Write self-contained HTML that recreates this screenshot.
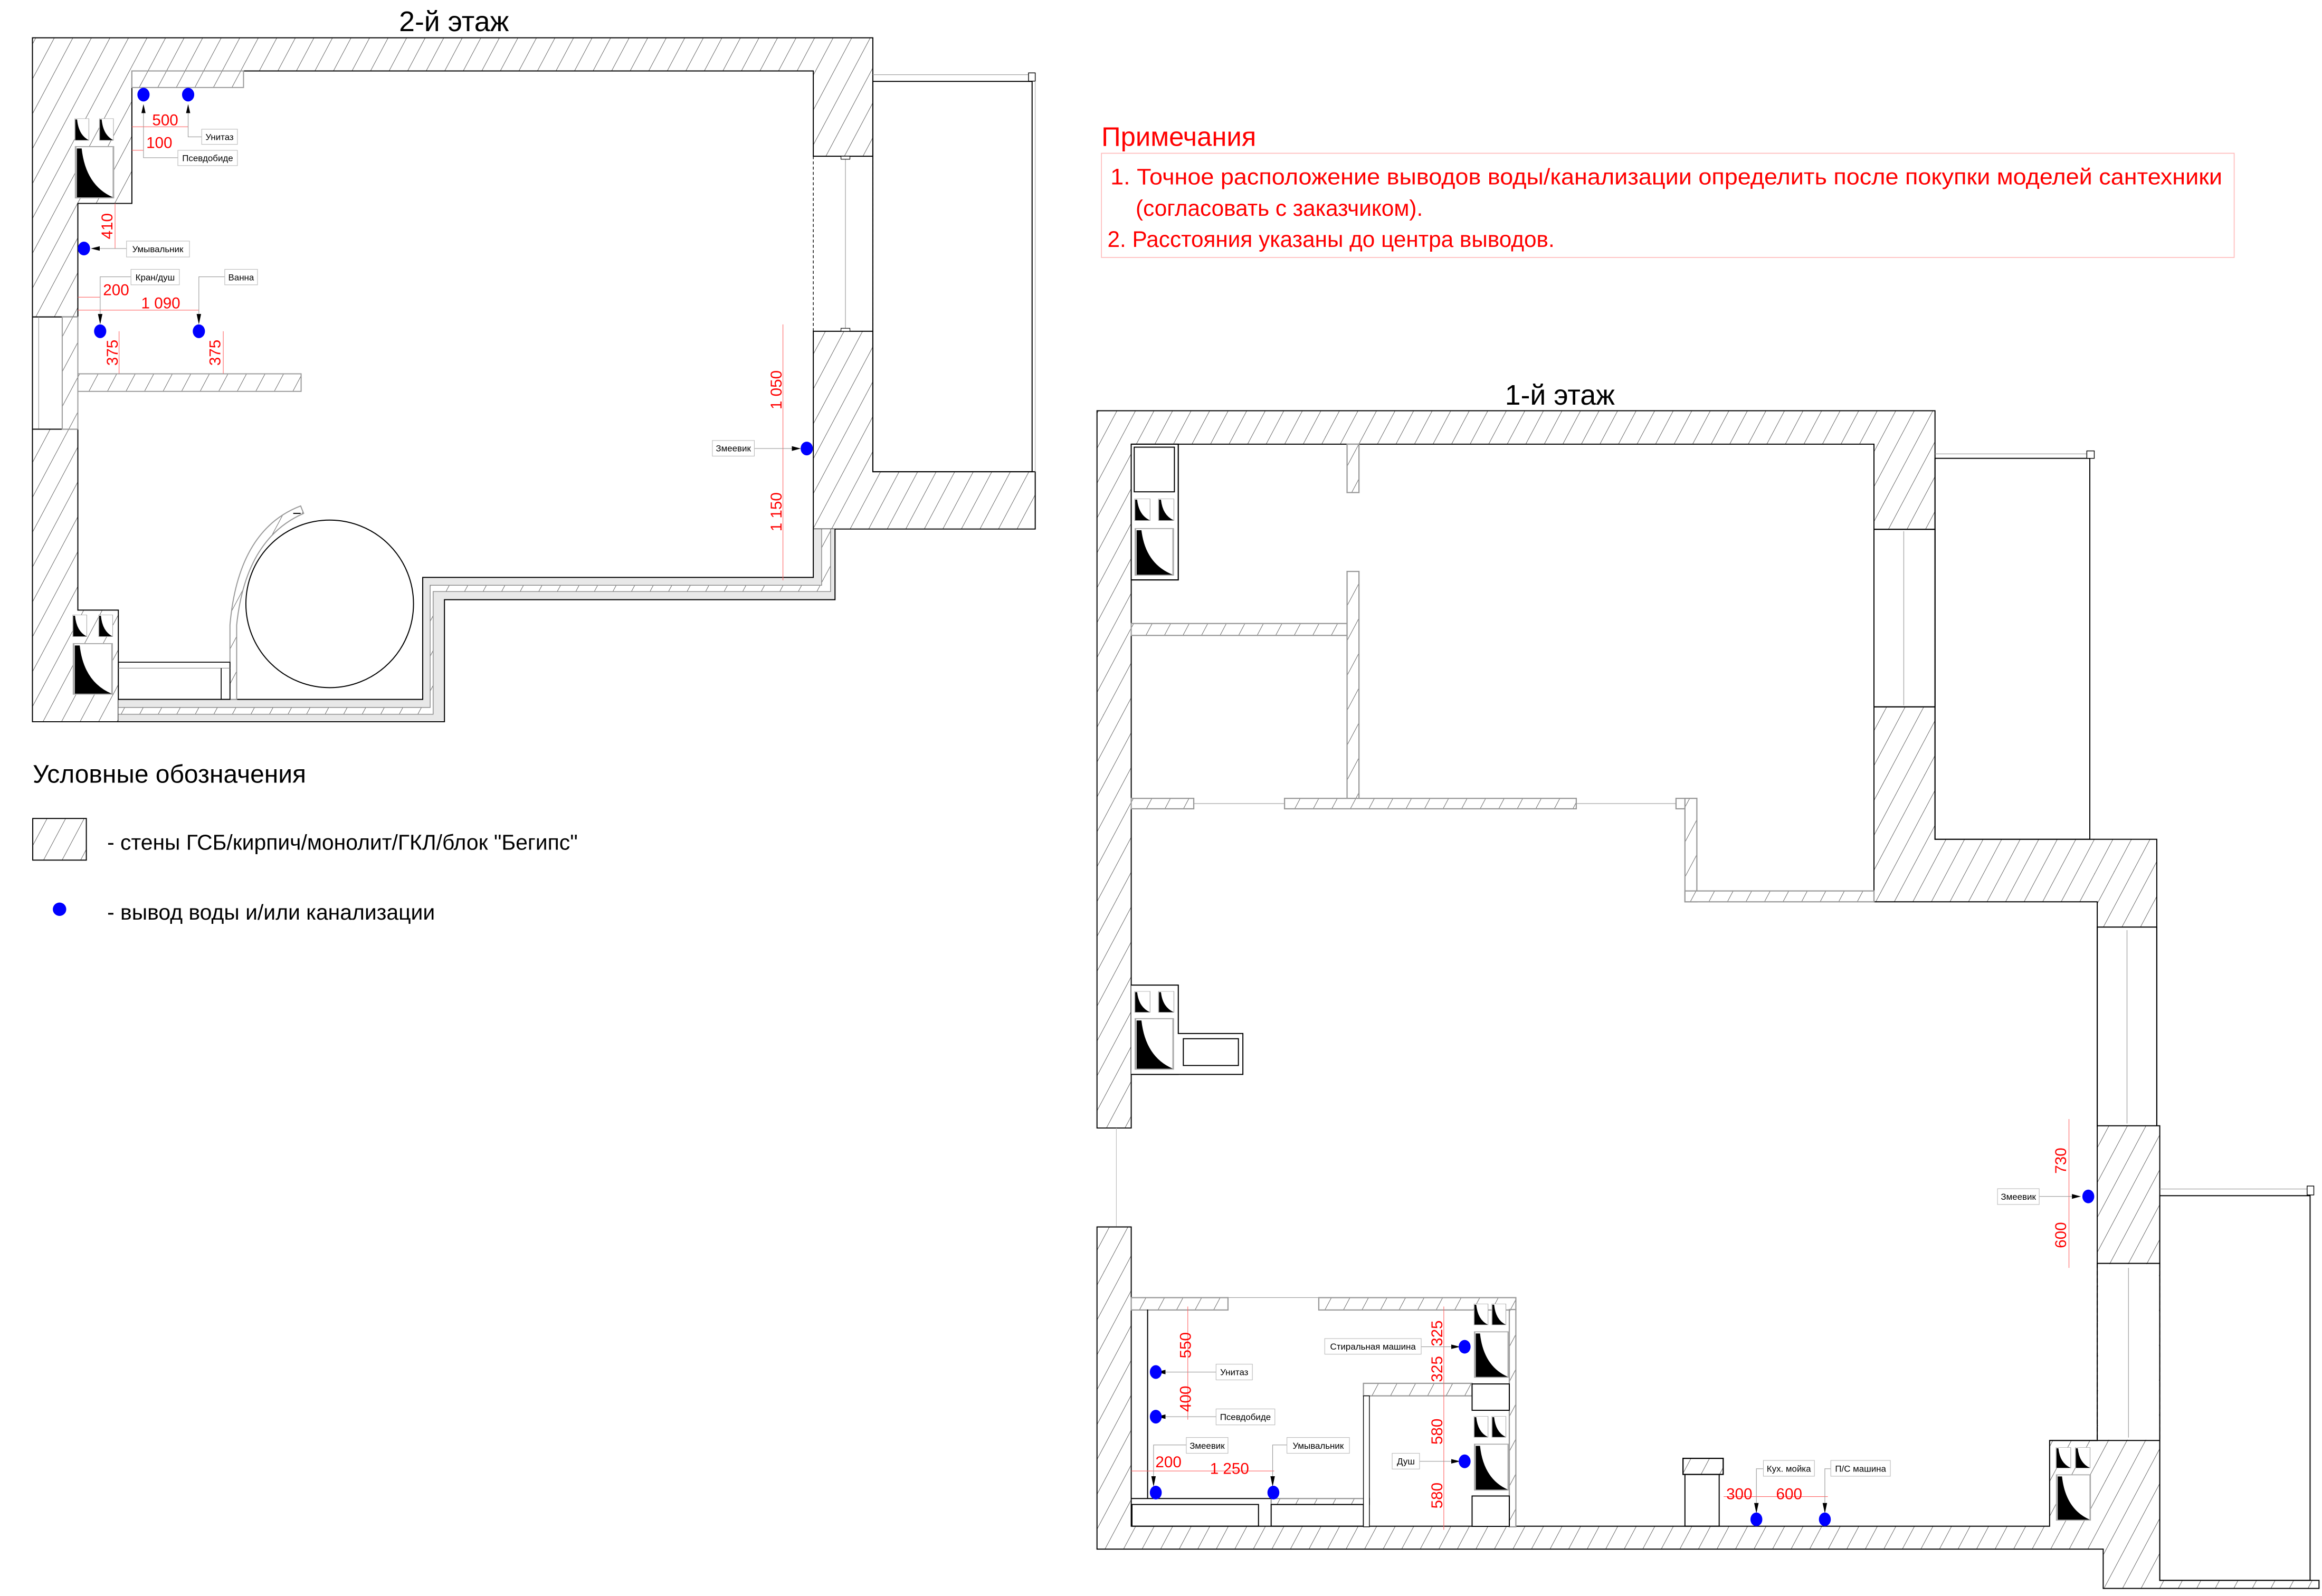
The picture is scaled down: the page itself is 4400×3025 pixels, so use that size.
<!DOCTYPE html>
<html><head><meta charset="utf-8"><style>html,body{margin:0;padding:0;background:#fff}svg{display:block}</style></head><body>
<svg xmlns="http://www.w3.org/2000/svg" width="4400" height="3025" viewBox="0 0 1560 1072.5" font-family="'Liberation Sans', sans-serif">
<defs>
<pattern id="h" patternUnits="userSpaceOnUse" width="11" height="11" patternTransform="rotate(28)">
<rect width="11" height="11" fill="#fff"/><line x1="0" y1="0" x2="0" y2="11" stroke="#666" stroke-width="0.7"/></pattern>
<symbol id="tr" viewBox="0 0 10 20" preserveAspectRatio="none"><rect x="0.3" y="0.3" width="9.4" height="19.4" fill="#fff" stroke="#aaa" stroke-width="0.4"/><path d="M0.6,1 L1.8,1 Q2.8,15 9.6,19.5 L0.6,19.5 Z" fill="#000"/></symbol>
</defs>
<rect width="1560" height="1072.5" fill="#fff"/>
<g stroke="#000" stroke-width="0.7">
<path d="M21.8,25.4 H586.4 V105 H546.4 V47.7 H88.6 V136.7 H52.3 V213 H21.8 Z" fill="url(#h)"/>
<path d="M21.8,288.4 H52.3 V410 H79.5 V485 H21.8 Z" fill="url(#h)"/>
<path d="M546.4,222.6 H586.4 V317 H695.5 V355.5 H546.4 Z" fill="url(#h)"/>
<rect x="21.8" y="213" width="30.5" height="75.4" fill="#fff"/>
<rect x="41.8" y="213" width="10.5" height="75.4" fill="url(#h)" stroke="#999"/>
<line x1="26" y1="213" x2="26" y2="288" stroke="#999" stroke-width="0.4"/>
<rect x="52.3" y="251.2" width="150" height="11.8" fill="url(#h)" stroke="#999"/>
<rect x="88.6" y="47.7" width="75" height="11.1" fill="url(#h)" stroke="#999"/>
<line x1="546.4" y1="105" x2="546.4" y2="222.6" stroke-dasharray="2,1.5" stroke-width="0.5"/>
<line x1="586.4" y1="105" x2="586.4" y2="222.6" stroke-dasharray="2,1.5" stroke-width="0.5"/>
<line x1="568" y1="107" x2="568" y2="221" stroke="#aaa" stroke-width="0.5"/>
<rect x="565" y="105" width="6" height="2" fill="#fff" stroke-width="0.4"/><rect x="565" y="220.6" width="6" height="2" fill="#fff" stroke-width="0.4"/>
<rect x="586.4" y="54.7" width="107" height="262.3" fill="none"/>
<line x1="586.4" y1="50.2" x2="693" y2="50.2" stroke="#999" stroke-width="0.4"/>
<rect x="691" y="49" width="4.5" height="5.5" fill="#fff" stroke-width="0.5"/>
<line x1="695.5" y1="55" x2="695.5" y2="317" stroke="#aaa" stroke-width="0.4"/>
<path d="M79.5,470 H284 V388 H546.4 V355.5 H552 V393.3 H289 V475.4 H79.5 Z" fill="#e8e8e8" stroke="none"/>
<path d="M79.5,475.4 H289 V393.3 H552 V355.5 H558 V397.5 H291 V480 H79.5 Z" fill="url(#h)" stroke="none"/>
<path d="M79.5,480 H291 V397.5 H558 V355.5 H561 V403 H298.6 V485 H79.5 Z" fill="#e8e8e8" stroke="none"/>
<polyline points="79.5,470 284,470 284,388 546.4,388 546.4,355.5" fill="none"/>
<polyline points="79.5,475.4 289,475.4 289,393.3 552,393.3 552,355.5" fill="none" stroke="#888" stroke-width="0.5"/>
<polyline points="79.5,480 291,480 291,397.5 558,397.5 558,355.5" fill="none" stroke="#888" stroke-width="0.5"/>
<polyline points="79.5,485 298.6,485 298.6,403 561,403 561,355.5" fill="none"/>
<circle cx="221.5" cy="405.8" r="56.3" fill="#fff"/>
<path d="M202,340 Q160,356 154.5,420 L154.5,470 L159,470 L159,420 Q165,362 204,345 Z" fill="url(#h)" stroke="#999"/>
<line x1="197" y1="345" x2="202" y2="345"/>
<rect x="79.5" y="445" width="75" height="25" fill="none" stroke-width="0.6"/>
<line x1="79.5" y1="449" x2="154.5" y2="449" stroke="#888" stroke-width="0.4"/>
<line x1="148.6" y1="449" x2="148.6" y2="470" stroke-width="0.6"/>
</g>
<use href="#tr" x="50" y="79.5" width="10" height="15"/><use href="#tr" x="66.5" y="79.5" width="10" height="15"/>
<use href="#tr" x="50" y="98" width="27" height="35.5"/>
<use href="#tr" x="48.6" y="413" width="10" height="15"/><use href="#tr" x="66" y="413" width="10" height="15"/>
<use href="#tr" x="48.6" y="432" width="27.5" height="35"/>
<g stroke="#000" stroke-width="0.7">
<path d="M737,276 H1300 V564 H1449 V623 H1409 V606 H1259 V298.5 H760 V758 H737 Z" fill="url(#h)"/>
<rect x="1259" y="355.7" width="41" height="119.3" fill="#fff"/>
<line x1="1259" y1="355.7" x2="1259" y2="475" stroke-dasharray="2,1.5" stroke-width="0.5"/>
<line x1="1300" y1="355.7" x2="1300" y2="475" stroke-dasharray="2,1.5" stroke-width="0.5"/>
<line x1="1279" y1="357" x2="1279" y2="474" stroke="#aaa" stroke-width="0.5"/>
<line x1="1259" y1="355.7" x2="1300" y2="355.7"/><line x1="1259" y1="475" x2="1300" y2="475"/>
<rect x="1409" y="623" width="40" height="134" fill="#fff"/>
<line x1="1429" y1="625" x2="1429" y2="755" stroke="#aaa" stroke-width="0.5"/>
<line x1="1409" y1="623" x2="1409" y2="757"/><line x1="1449" y1="623" x2="1449" y2="757"/>
<rect x="1409" y="756.5" width="42" height="92.5" fill="url(#h)"/>
<path d="M737,824.5 H760 V1025.6 H1377 V968 H1409 V849 H1451 V1062 H1558 V1067.4 H1413 V1041 H737 Z" fill="url(#h)"/>
<rect x="1409.5" y="849.5" width="41" height="118" fill="#fff" stroke="none"/>
<line x1="1409" y1="849" x2="1409" y2="968" stroke-dasharray="3,2"/><line x1="1451" y1="849" x2="1451" y2="968" stroke-dasharray="3,2"/>
<line x1="1430" y1="852" x2="1430" y2="966" stroke="#aaa" stroke-width="0.5"/>
<line x1="1377" y1="968" x2="1451" y2="968"/>
<line x1="750" y1="758" x2="750" y2="824" stroke="#bbb" stroke-width="0.4"/>
<rect x="1300" y="308" width="104" height="256" fill="none"/>
<line x1="1300" y1="305" x2="1404" y2="305" stroke="#999" stroke-width="0.4"/>
<rect x="1402" y="303" width="5" height="5" fill="#fff" stroke-width="0.5"/>
<rect x="1451" y="803.5" width="101" height="258.5" fill="none"/>
<line x1="1451" y1="799" x2="1552" y2="799" stroke="#999" stroke-width="0.4"/>
<rect x="1550" y="797" width="4.5" height="6" fill="#fff" stroke-width="0.5"/>
<rect x="760" y="298.5" width="31.6" height="91.2" fill="#fff"/>
<path d="M760,298.5 H791.6 V389.7 H760" fill="none"/>
<rect x="762" y="300.5" width="27" height="30" fill="#fff"/>
<rect x="760" y="662" width="31.6" height="60" fill="#fff"/>
<path d="M760,662 H791.6 V694.5 H835 V722 H760" fill="#fff"/>
<rect x="795" y="698" width="37" height="18" fill="none"/>
<g stroke="#999" stroke-width="0.8">
<rect x="760" y="419" width="145" height="8" fill="url(#h)"/>
<rect x="905" y="298.5" width="8" height="32.5" fill="url(#h)"/>
<rect x="905" y="384" width="8" height="152.5" fill="url(#h)"/>
<rect x="760" y="536.5" width="42" height="7" fill="url(#h)"/>
<rect x="863" y="536.5" width="196" height="7" fill="url(#h)"/>
<rect x="1126" y="536.5" width="14" height="7" fill="url(#h)"/>
<rect x="1132" y="536.5" width="8" height="69.5" fill="url(#h)"/>
<rect x="1132" y="598.7" width="127" height="7.3" fill="url(#h)"/>
<line x1="802" y1="540" x2="863" y2="540" stroke-width="0.4"/>
<line x1="1059" y1="540" x2="1126" y2="540" stroke-width="0.4"/>
<rect x="760" y="872" width="65" height="8.3" fill="url(#h)"/>
<rect x="886" y="872" width="132.4" height="8.3" fill="url(#h)"/>
<line x1="825" y1="872" x2="886" y2="872" stroke-width="0.4"/>
<rect x="916" y="929.6" width="73" height="8.4" fill="url(#h)"/>
<rect x="854" y="1007" width="66" height="4" fill="url(#h)"/>
<rect x="1014" y="880" width="4.4" height="146" fill="url(#h)"/>
<rect x="1130.7" y="980" width="27" height="10.8" fill="url(#h)" stroke="#000"/>
</g>
<line x1="771" y1="880" x2="771" y2="1007"/>
<line x1="760" y1="1007" x2="854" y2="1007"/>
<rect x="760.5" y="1011" width="85" height="14.6" fill="none"/>
<rect x="854" y="1011" width="62" height="14.6" fill="none"/>
<rect x="916" y="938" width="4" height="88" fill="#fff" stroke-width="0.5"/>
<rect x="1132" y="990.8" width="23" height="34.8" fill="none"/>
<rect x="989" y="930" width="25" height="17.7" fill="#fff"/>
<rect x="989" y="1005.3" width="25" height="20.4" fill="#fff"/>
</g>
<use href="#tr" x="762" y="335" width="11" height="15"/><use href="#tr" x="778" y="335" width="11" height="15"/>
<use href="#tr" x="762" y="354.7" width="27" height="32.3"/>
<use href="#tr" x="762" y="666" width="11" height="14.5"/><use href="#tr" x="778" y="666" width="11" height="14.5"/>
<use href="#tr" x="762" y="684" width="27" height="35"/>
<use href="#tr" x="990" y="876" width="10" height="14.5"/><use href="#tr" x="1002" y="876" width="10" height="14.5"/>
<use href="#tr" x="990" y="894.5" width="24" height="31.5"/>
<use href="#tr" x="990" y="951.6" width="10" height="14.4"/><use href="#tr" x="1002" y="951.6" width="10" height="14.4"/>
<use href="#tr" x="990" y="970" width="24" height="31.8"/>
<use href="#tr" x="1381" y="972.5" width="10.5" height="14.2"/><use href="#tr" x="1394" y="972.5" width="10.5" height="14.2"/>
<use href="#tr" x="1381" y="990.6" width="24" height="31.4"/>
<g stroke="#f66" stroke-width="0.4" fill="none">
<line x1="88.6" y1="85.2" x2="126.4" y2="85.2"/><line x1="88.6" y1="101" x2="96.4" y2="101"/>
<line x1="77.3" y1="136.7" x2="77.3" y2="167"/>
<line x1="52.3" y1="199.7" x2="67.3" y2="199.7"/><line x1="52.3" y1="208.4" x2="133.6" y2="208.4"/>
<line x1="80" y1="222.6" x2="80" y2="251"/><line x1="150" y1="222.6" x2="150" y2="251"/>
<line x1="526" y1="218" x2="526" y2="390"/>
<line x1="798" y1="878" x2="798" y2="954"/>
<line x1="970" y1="878" x2="970" y2="1028"/>
<line x1="760" y1="988.5" x2="856" y2="988.5"/>
<line x1="1158" y1="1005.7" x2="1228" y2="1005.7"/>
<line x1="1390" y1="752" x2="1390" y2="852"/>
</g>
<g stroke="#999" stroke-width="0.4" fill="none">
<polyline points="126.4,75 126.4,92 135.5,92"/><polyline points="96.4,75 96.4,106 119.5,106"/>
<line x1="62" y1="167" x2="85" y2="167"/>
<polyline points="67.3,217 67.3,186 88,186"/><polyline points="133.6,217 133.6,186 151,186"/>
<line x1="506.8" y1="301.4" x2="536" y2="301.4"/>
<line x1="781" y1="922" x2="817" y2="922"/><line x1="781" y1="952" x2="817" y2="952"/>
<polyline points="775,997 775,971 797,971"/><polyline points="855,997 855,971 864.6,971"/>
<line x1="954.8" y1="905" x2="978" y2="905"/><line x1="953.7" y1="982" x2="978" y2="982"/>
<polyline points="1180,1015 1180,987 1184.7,987"/><polyline points="1226,1015 1226,987 1230,987"/>
<line x1="1370" y1="804" x2="1396" y2="804"/>
</g>
<g fill="#000">
<path d="M95,76 L96.4,70 L97.8,76Z"/><path d="M125,76 L126.4,70 L127.8,76Z"/>
<path d="M61,165.5 L67,167 L61,168.5Z" transform="rotate(180 64 167)"/>
<path d="M65.8,211 L67.3,218 L68.8,211Z"/><path d="M132.1,211 L133.6,218 L135.1,211Z"/>
<path d="M532,299.8 L538,301.4 L532,303Z"/>
<path d="M781,920.5 L787,922 L781,923.5Z" transform="rotate(180 782 922)"/>
<path d="M781,950.5 L787,952 L781,953.5Z" transform="rotate(180 782 952)"/>
<path d="M773.5,992 L775,999 L776.5,992Z"/><path d="M853.5,992 L855,999 L856.5,992Z"/>
<path d="M975,903.5 L981,905 L975,906.5Z"/><path d="M975,980.5 L981,982 L975,983.5Z"/>
<path d="M1178.5,1010 L1180,1017 L1181.5,1010Z"/><path d="M1224.5,1010 L1226,1017 L1227.5,1010Z"/>
<path d="M1392,802.4 L1398,804 L1392,805.6Z"/>
</g>
<g fill="#00f">
<ellipse cx="96.4" cy="63.6" rx="4.1" ry="4.6"/><ellipse cx="126.4" cy="63.6" rx="4.1" ry="4.6"/>
<ellipse cx="56.4" cy="167" rx="4.1" ry="4.6"/><ellipse cx="67.3" cy="222.6" rx="4.1" ry="4.6"/>
<ellipse cx="133.6" cy="222.6" rx="4.1" ry="4.6"/><ellipse cx="542" cy="301.4" rx="4.1" ry="4.6"/>
<ellipse cx="776.5" cy="922" rx="4" ry="4.6"/><ellipse cx="776.5" cy="952" rx="4" ry="4.6"/>
<ellipse cx="776.5" cy="1003" rx="4" ry="4.6"/><ellipse cx="855.5" cy="1003" rx="4" ry="4.6"/>
<ellipse cx="984" cy="905" rx="4" ry="4.6"/><ellipse cx="984" cy="982" rx="4" ry="4.6"/>
<ellipse cx="1180" cy="1021" rx="4" ry="4.6"/><ellipse cx="1226" cy="1021" rx="4" ry="4.6"/>
<ellipse cx="1403" cy="804" rx="4" ry="4.6"/>
<circle cx="40" cy="611" r="4.5"/>
</g>
<g fill="#fff" stroke="#bbb" stroke-width="0.4">
<rect x="135.5" y="86.8" width="24" height="10.2"/><rect x="119.5" y="101" width="40" height="10.3"/>
<rect x="85" y="162" width="42.3" height="10.7"/><rect x="88" y="181" width="32.5" height="10.4"/>
<rect x="151" y="181" width="22" height="10.4"/><rect x="478.6" y="296" width="28.2" height="10.5"/>
<rect x="890" y="899.5" width="64.8" height="10.5"/><rect x="817" y="916.7" width="24.4" height="10.6"/>
<rect x="817" y="946.8" width="39.5" height="10.7"/><rect x="797" y="966" width="28" height="10.6"/>
<rect x="864.6" y="966" width="42" height="10.6"/><rect x="935.3" y="976.6" width="18.4" height="10.6"/>
<rect x="1184.7" y="981.4" width="34.3" height="10.6"/><rect x="1230" y="981.4" width="40" height="10.6"/>
<rect x="1342" y="798.8" width="28" height="10.6"/>
</g>
<g font-size="6" fill="#000" text-anchor="middle">
<text x="147.5" y="94.2">Унитаз</text><text x="139.5" y="108.3">Псевдобиде</text>
<text x="106" y="169.5">Умывальник</text><text x="104.2" y="188.4">Кран/душ</text>
<text x="162" y="188.4">Ванна</text><text x="492.7" y="303.4">Змеевик</text>
<text x="922.4" y="907">Стиральная машина</text><text x="829.2" y="924.2">Унитаз</text>
<text x="836.7" y="954.3">Псевдобиде</text><text x="811" y="973.5">Змеевик</text>
<text x="885.6" y="973.5">Умывальник</text><text x="944.5" y="984">Душ</text>
<text x="1201.8" y="989">Кух. мойка</text><text x="1250" y="989">П/С машина</text>
<text x="1356" y="806.3">Змеевик</text>
</g>
<g font-size="10.5" fill="#f00" text-anchor="middle">
<text x="111" y="84.2">500</text><text x="107" y="99.5">100</text>
<text x="78" y="198.4">200</text><text x="108" y="207.3">1 090</text>
<text x="785" y="986">200</text><text x="826" y="990.5">1 250</text>
<text x="1168.5" y="1007.5">300</text><text x="1202" y="1007.5">600</text>
<text transform="translate(75.5,152) rotate(-90)">410</text>
<text transform="translate(79,237) rotate(-90)">375</text>
<text transform="translate(148,237) rotate(-90)">375</text>
<text transform="translate(525,262) rotate(-90)">1 050</text>
<text transform="translate(525,344) rotate(-90)">1 150</text>
<text transform="translate(800,904) rotate(-90)">550</text>
<text transform="translate(800,940) rotate(-90)">400</text>
<text transform="translate(969,896) rotate(-90)">325</text>
<text transform="translate(969,920) rotate(-90)">325</text>
<text transform="translate(969,962) rotate(-90)">580</text>
<text transform="translate(969,1005) rotate(-90)">580</text>
<text transform="translate(1388,780) rotate(-90)">730</text>
<text transform="translate(1388,830) rotate(-90)">600</text>
</g>
<text x="305" y="21" font-size="19" text-anchor="middle">2-й этаж</text>
<text x="1048" y="272" font-size="19" text-anchor="middle">1-й этаж</text>
<text x="22" y="526" font-size="17">Условные обозначения</text>
<rect x="22" y="550" width="36" height="28" fill="url(#h)" stroke="#000" stroke-width="0.7"/>
<text x="72" y="571" font-size="14.5">-  стены ГСБ/кирпич/монолит/ГКЛ/блок "Бегипс"</text>
<text x="72" y="618" font-size="14.5">-  вывод воды и/или канализации</text>
<text x="740" y="98" font-size="18" fill="#f00">Примечания</text>
<rect x="740" y="103" width="761" height="70" fill="none" stroke="#fbb" stroke-width="0.6"/>
<g font-size="15" fill="#f00">
<text x="746" y="124" textLength="747" lengthAdjust="spacingAndGlyphs">1. Точное расположение выводов воды/канализации определить после покупки моделей сантехники</text>
<text x="763" y="145">(согласовать с заказчиком).</text>
<text x="744" y="166">2. Расстояния указаны до центра выводов.</text>
</g>
</svg>
</body></html>
